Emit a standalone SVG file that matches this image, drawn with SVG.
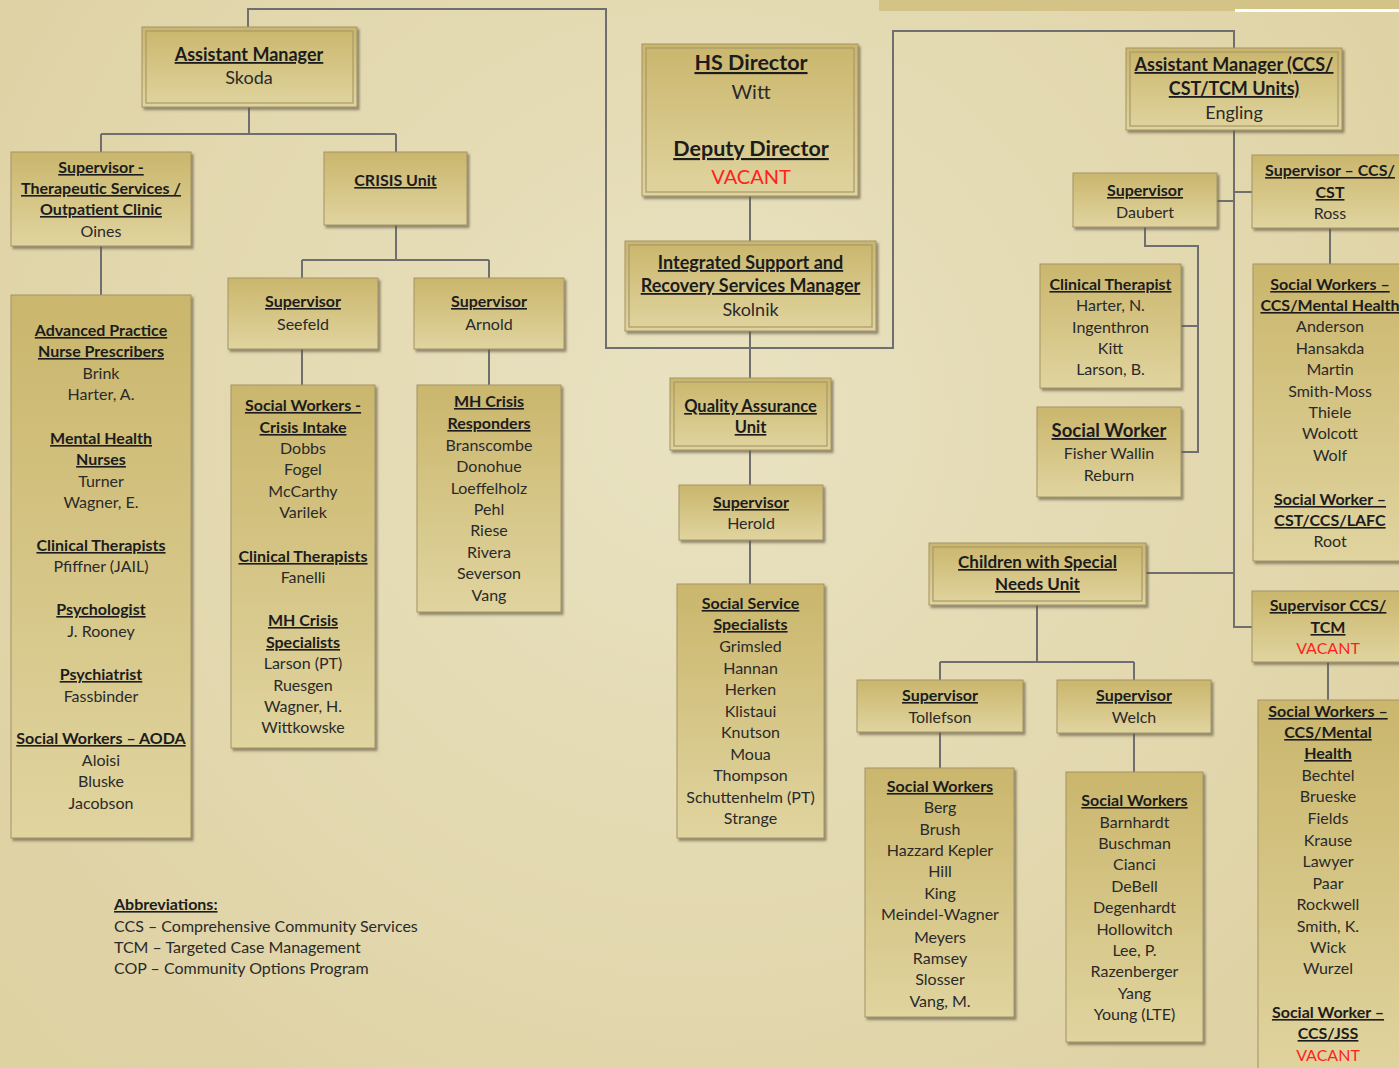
<svg xmlns="http://www.w3.org/2000/svg" width="1399" height="1068" viewBox="0 0 1399 1068">
<defs>
<radialGradient id="bg" cx="700" cy="420" r="900" gradientUnits="userSpaceOnUse">
<stop offset="0" stop-color="#e9e2c1"/>
<stop offset="1" stop-color="#ded1a2"/>
</radialGradient>
<linearGradient id="boxg" x1="0" y1="0" x2="0" y2="1">
<stop offset="0" stop-color="#cab66c"/>
<stop offset="1" stop-color="#e0d49f"/>
</linearGradient>
<filter id="sh" x="-10%" y="-10%" width="125%" height="125%">
<feDropShadow dx="2" dy="2.5" stdDeviation="1.2" flood-color="#5f5846" flood-opacity="0.65"/>
</filter>
<style>
.box{fill:url(#boxg);stroke:#a39466;stroke-width:1;filter:url(#sh)}
.inner{fill:none;stroke:#a8996a;stroke-width:1.2}
text{font-family:Lato,'Liberation Sans',sans-serif;font-size:16px;text-anchor:middle}
.t{font-weight:700;fill:#1c1c1c;text-decoration:underline}
.n{fill:#2a2a2a}
.v{fill:#ff1f1f}
.big{font-size:20px}
.bigt{font-size:21.5px}
.l18{font-size:18px}
.l17{font-size:17px}
.c{fill:none;stroke:#6f6f6f;stroke-width:2}
.abbr{text-anchor:start}
</style>
</defs>
<rect width="1399" height="1068" fill="url(#bg)"/>
<rect x="879" y="0" width="520" height="11" fill="#d3c386"/>
<rect x="1235" y="9" width="164" height="3" fill="#ffffff"/>

<g id="connectors">
<path class="c" d="M248,27 V9 H606 V348 H893 V31 H1234 V48"/>
<path class="c" d="M249,107 V134 M101,134 H396 M101,134 V152 M396,134 V152"/>
<path class="c" d="M101,246 V295"/>
<path class="c" d="M396,225 V260 M302,260 H489 M302,260 V278 M489,260 V278"/>
<path class="c" d="M302,349 V385 M489,349 V385"/>
<path class="c" d="M750,196 V241 M750,331 V378 M750,450 V485 M750,540 V584"/>
<path class="c" d="M1234,130 V627 H1252 M1217,201 H1234 M1234,192 H1252"/>
<path class="c" d="M1145,227 V246 H1198 V452 H1181 M1198,326 H1181"/>
<path class="c" d="M1330,228 V264"/>
<path class="c" d="M1146,573 H1234"/>
<path class="c" d="M1037,605 V662 M940,662 H1134 M940,662 V680 M1134,662 V680"/>
<path class="c" d="M940,732 V768 M1134,733 V772 M1328,662 V700"/>
</g>

<g id="asst-mgr-skoda">
<rect class="box" x="142" y="27" width="215" height="80"/>
<rect class="inner" x="146" y="31" width="207" height="72"/>
<text class="t l18" x="249" y="61">Assistant Manager</text>
<text class="n l18" x="249" y="84">Skoda</text>
</g>

<g id="sup-therapeutic">
<rect class="box" x="11" y="152" width="180" height="94"/>
<text class="t" x="101" y="173">Supervisor -</text>
<text class="t" x="101" y="194">Therapeutic Services /</text>
<text class="t" x="101" y="215">Outpatient Clinic</text>
<text class="n" x="101" y="237">Oines</text>
</g>

<g id="crisis-unit">
<rect class="box" x="324" y="152" width="143" height="73"/>
<text class="t" x="395.5" y="186">CRISIS Unit</text>
</g>

<g id="sup-seefeld">
<rect class="box" x="228" y="278" width="150" height="71"/>
<text class="t" x="303" y="307">Supervisor</text>
<text class="n" x="303" y="330">Seefeld</text>
</g>

<g id="sup-arnold">
<rect class="box" x="414" y="278" width="150" height="71"/>
<text class="t" x="489" y="307">Supervisor</text>
<text class="n" x="489" y="330">Arnold</text>
</g>

<g id="outpatient-staff">
<rect class="box" x="11" y="295" width="180" height="543"/>
<text class="t" x="101" y="336">Advanced Practice</text>
<text class="t" x="101" y="357">Nurse Prescribers</text>
<text class="n" x="101" y="379">Brink</text>
<text class="n" x="101" y="400">Harter, A.</text>
<text class="t" x="101" y="444">Mental Health</text>
<text class="t" x="101" y="465">Nurses</text>
<text class="n" x="101" y="487">Turner</text>
<text class="n" x="101" y="508">Wagner, E.</text>
<text class="t" x="101" y="551">Clinical Therapists</text>
<text class="n" x="101" y="572">Pfiffner (JAIL)</text>
<text class="t" x="101" y="615">Psychologist</text>
<text class="n" x="101" y="637">J. Rooney</text>
<text class="t" x="101" y="680">Psychiatrist</text>
<text class="n" x="101" y="702">Fassbinder</text>
<text class="t" x="101" y="744">Social Workers – AODA</text>
<text class="n" x="101" y="766">Aloisi</text>
<text class="n" x="101" y="787">Bluske</text>
<text class="n" x="101" y="809">Jacobson</text>
</g>

<g id="crisis-intake">
<rect class="box" x="231" y="385" width="144" height="363"/>
<text class="t" x="303" y="411">Social Workers -</text>
<text class="t" x="303" y="433">Crisis Intake</text>
<text class="n" x="303" y="454">Dobbs</text>
<text class="n" x="303" y="475">Fogel</text>
<text class="n" x="303" y="497">McCarthy</text>
<text class="n" x="303" y="518">Varilek</text>
<text class="t" x="303" y="562">Clinical Therapists</text>
<text class="n" x="303" y="583">Fanelli</text>
<text class="t" x="303" y="626">MH Crisis</text>
<text class="t" x="303" y="648">Specialists</text>
<text class="n" x="303" y="669">Larson (PT)</text>
<text class="n" x="303" y="691">Ruesgen</text>
<text class="n" x="303" y="712">Wagner, H.</text>
<text class="n" x="303" y="733">Wittkowske</text>
</g>

<g id="crisis-responders">
<rect class="box" x="417" y="385" width="144" height="227"/>
<text class="t" x="489" y="407">MH Crisis</text>
<text class="t" x="489" y="429">Responders</text>
<text class="n" x="489" y="451">Branscombe</text>
<text class="n" x="489" y="472">Donohue</text>
<text class="n" x="489" y="494">Loeffelholz</text>
<text class="n" x="489" y="515">Pehl</text>
<text class="n" x="489" y="536">Riese</text>
<text class="n" x="489" y="558">Rivera</text>
<text class="n" x="489" y="579">Severson</text>
<text class="n" x="489" y="601">Vang</text>
</g>

<g id="hs-director">
<rect class="box" x="642" y="44" width="216" height="152"/>
<rect class="inner" x="646" y="48" width="208" height="144"/>
<text class="t bigt" x="751" y="70">HS Director</text>
<text class="n big" x="751" y="99">Witt</text>
<text class="t bigt" x="751" y="156">Deputy Director</text>
<text class="v big" x="751" y="184">VACANT</text>
</g>

<g id="integrated-support">
<rect class="box" x="625" y="241" width="251" height="90"/>
<rect class="inner" x="629" y="245" width="243" height="82"/>
<text class="t l18" x="750.5" y="269">Integrated Support and</text>
<text class="t l18" x="750.5" y="292">Recovery Services Manager</text>
<text class="n l18" x="750.5" y="316">Skolnik</text>
</g>

<g id="quality-assurance">
<rect class="box" x="670" y="378" width="161" height="72"/>
<rect class="inner" x="674" y="382" width="153" height="64"/>
<text class="t" x="750.5" y="412" style="font-size:16.5px">Quality Assurance</text>
<text class="t" x="750.5" y="433" style="font-size:16.5px">Unit</text>
</g>

<g id="sup-herold">
<rect class="box" x="679" y="485" width="144" height="55"/>
<text class="t" x="751" y="508">Supervisor</text>
<text class="n" x="751" y="529">Herold</text>
</g>

<g id="social-service-specialists">
<rect class="box" x="677" y="584" width="147" height="254"/>
<text class="t" x="750.5" y="609">Social Service</text>
<text class="t" x="750.5" y="630">Specialists</text>
<text class="n" x="750.5" y="652">Grimsled</text>
<text class="n" x="750.5" y="674">Hannan</text>
<text class="n" x="750.5" y="695">Herken</text>
<text class="n" x="750.5" y="717">Klistaui</text>
<text class="n" x="750.5" y="738">Knutson</text>
<text class="n" x="750.5" y="760">Moua</text>
<text class="n" x="750.5" y="781">Thompson</text>
<text class="n" x="750.5" y="803">Schuttenhelm (PT)</text>
<text class="n" x="750.5" y="824">Strange</text>
</g>

<g id="asst-mgr-ccs">
<rect class="box" x="1126" y="48" width="216" height="82"/>
<rect class="inner" x="1130" y="52" width="208" height="74"/>
<text class="t l18" x="1234" y="71">Assistant Manager (CCS/</text>
<text class="t l18" x="1234" y="95">CST/TCM Units)</text>
<text class="n l18" x="1234" y="119">Engling</text>
</g>

<g id="sup-daubert">
<rect class="box" x="1073" y="173" width="144" height="54"/>
<text class="t" x="1145" y="196">Supervisor</text>
<text class="n" x="1145" y="218">Daubert</text>
</g>

<g id="sup-ccs-cst">
<rect class="box" x="1252" y="155" width="156" height="73"/>
<text class="t" x="1330" y="176">Supervisor – CCS/</text>
<text class="t" x="1330" y="198">CST</text>
<text class="n" x="1330" y="219">Ross</text>
</g>

<g id="clinical-therapist">
<rect class="box" x="1040" y="264" width="141" height="124"/>
<text class="t" x="1110.5" y="290">Clinical Therapist</text>
<text class="n" x="1110.5" y="311">Harter, N.</text>
<text class="n" x="1110.5" y="333">Ingenthron</text>
<text class="n" x="1110.5" y="354">Kitt</text>
<text class="n" x="1110.5" y="375">Larson, B.</text>
</g>

<g id="social-worker-daubert">
<rect class="box" x="1037" y="407" width="144" height="90"/>
<text class="t" x="1109" y="437" style="font-size:18.5px">Social Worker</text>
<text class="n" x="1109" y="459">Fisher Wallin</text>
<text class="n" x="1109" y="481">Reburn</text>
</g>

<g id="sw-ccs-mh-ross">
<rect class="box" x="1253" y="264" width="155" height="297"/>
<text class="t" x="1330" y="290">Social Workers –</text>
<text class="t" x="1330" y="311">CCS/Mental Health</text>
<text class="n" x="1330" y="332">Anderson</text>
<text class="n" x="1330" y="354">Hansakda</text>
<text class="n" x="1330" y="375">Martin</text>
<text class="n" x="1330" y="397">Smith-Moss</text>
<text class="n" x="1330" y="418">Thiele</text>
<text class="n" x="1330" y="439">Wolcott</text>
<text class="n" x="1330" y="461">Wolf</text>
<text class="t" x="1330" y="505">Social Worker –</text>
<text class="t" x="1330" y="526">CST/CCS/LAFC</text>
<text class="n" x="1330" y="547">Root</text>
</g>

<g id="children-special-needs">
<rect class="box" x="929" y="543" width="217" height="62"/>
<rect class="inner" x="933" y="547" width="209" height="54"/>
<text class="t l17" x="1037.5" y="568">Children with Special</text>
<text class="t l17" x="1037.5" y="590">Needs Unit</text>
</g>

<g id="sup-ccs-tcm">
<rect class="box" x="1252" y="591" width="156" height="71"/>
<text class="t" x="1328" y="611">Supervisor CCS/</text>
<text class="t" x="1328" y="633">TCM</text>
<text class="n v" x="1328" y="654">VACANT</text>
</g>

<g id="sup-tollefson">
<rect class="box" x="857" y="680" width="166" height="52"/>
<text class="t" x="940" y="701">Supervisor</text>
<text class="n" x="940" y="723">Tollefson</text>
</g>

<g id="sup-welch">
<rect class="box" x="1057" y="680" width="154" height="53"/>
<text class="t" x="1134" y="701">Supervisor</text>
<text class="n" x="1134" y="723">Welch</text>
</g>

<g id="sw-tollefson">
<rect class="box" x="865" y="768" width="149" height="249"/>
<text class="t" x="940" y="792">Social Workers</text>
<text class="n" x="940" y="813">Berg</text>
<text class="n" x="940" y="835">Brush</text>
<text class="n" x="940" y="856">Hazzard Kepler</text>
<text class="n" x="940" y="877">Hill</text>
<text class="n" x="940" y="899">King</text>
<text class="n" x="940" y="920">Meindel-Wagner</text>
<text class="n" x="940" y="943">Meyers</text>
<text class="n" x="940" y="964">Ramsey</text>
<text class="n" x="940" y="985">Slosser</text>
<text class="n" x="940" y="1007">Vang, M.</text>
</g>

<g id="sw-welch">
<rect class="box" x="1066" y="772" width="137" height="270"/>
<text class="t" x="1134.5" y="806">Social Workers</text>
<text class="n" x="1134.5" y="828">Barnhardt</text>
<text class="n" x="1134.5" y="849">Buschman</text>
<text class="n" x="1134.5" y="870">Cianci</text>
<text class="n" x="1134.5" y="892">DeBell</text>
<text class="n" x="1134.5" y="913">Degenhardt</text>
<text class="n" x="1134.5" y="935">Hollowitch</text>
<text class="n" x="1134.5" y="956">Lee, P.</text>
<text class="n" x="1134.5" y="977">Razenberger</text>
<text class="n" x="1134.5" y="999">Yang</text>
<text class="n" x="1134.5" y="1020">Young (LTE)</text>
</g>

<g id="sw-ccs-mh-tcm">
<rect class="box" x="1258" y="700" width="150" height="380"/>
<text class="t" x="1328" y="717">Social Workers –</text>
<text class="t" x="1328" y="738">CCS/Mental</text>
<text class="t" x="1328" y="759">Health</text>
<text class="n" x="1328" y="781">Bechtel</text>
<text class="n" x="1328" y="802">Brueske</text>
<text class="n" x="1328" y="824">Fields</text>
<text class="n" x="1328" y="846">Krause</text>
<text class="n" x="1328" y="867">Lawyer</text>
<text class="n" x="1328" y="889">Paar</text>
<text class="n" x="1328" y="910">Rockwell</text>
<text class="n" x="1328" y="932">Smith, K.</text>
<text class="n" x="1328" y="953">Wick</text>
<text class="n" x="1328" y="974">Wurzel</text>
<text class="t" x="1328" y="1018">Social Worker –</text>
<text class="t" x="1328" y="1039">CCS/JSS</text>
<text class="n v" x="1328" y="1061">VACANT</text>
</g>

<g id="abbreviations">
<text class="t abbr" x="114" y="910">Abbreviations:</text>
<text class="n abbr" x="114" y="932">CCS – Comprehensive Community Services</text>
<text class="n abbr" x="114" y="953">TCM – Targeted Case Management</text>
<text class="n abbr" x="114" y="974">COP – Community Options Program</text>
</g>
</svg>
